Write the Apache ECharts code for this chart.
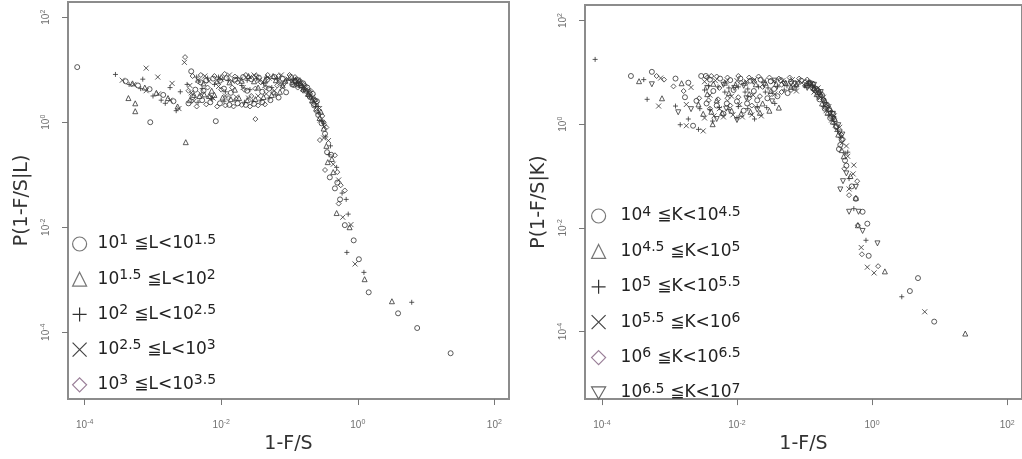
<!DOCTYPE html>
<html><head><meta charset="utf-8">
<script src="https://cdn.jsdelivr.net/npm/echarts@6/dist/echarts.min.js"></script>
<style>html,body{margin:0;padding:0;background:#fff}#c{width:1022px;height:459px}</style>
</head><body><div id="c"></div>
<script>
// Points stored as [log10(1-F/S), log10(P)].
// Left panel: size classes L
const L1 = [[-4.11,1.05],[-2.44,0.97],[-3.04,0.00],[-2.08,0.02],
 [-3.40,0.78],[-3.22,0.70],[-3.05,0.63],[-2.85,0.52],[-2.70,0.40],
 [-2.38,0.62],[-2.30,0.76],[-2.22,0.80],[-2.12,0.83],[-2.02,0.79],[-1.92,0.84],[-1.80,0.81],[-1.68,0.86],[-1.56,0.82],[-1.45,0.85],[-1.33,0.81],[-1.22,0.86],[-1.10,0.83],[-0.98,0.86],
 [-2.42,0.48],[-2.28,0.42],[-2.16,0.38],[-2.02,0.36],[-1.88,0.33],[-1.76,0.36],[-1.64,0.33],[-1.52,0.35],[-1.40,0.38],[-1.28,0.42],[-1.16,0.47],[-1.05,0.57],
 [-0.92,0.78],[-0.84,0.70],[-0.76,0.60],[-0.70,0.48],[-0.64,0.32],[-0.58,0.14],[-0.53,-0.02],[-0.48,-0.22],[-0.45,-0.57],[-0.41,-1.05],[-0.335,-1.26],[-0.26,-1.47],[-0.19,-1.96],[-0.06,-2.25],[0.016,-2.61],[0.16,-3.24],[0.59,-3.64],[0.87,-3.92],[1.36,-4.40],
 [-2.26,0.60],[-1.96,0.64],[-1.62,0.60],[-1.30,0.64],[-0.96,0.72],[-2.48,0.36],[-1.86,0.56],[-1.40,0.58],[-0.87,0.80],[-0.80,0.74],[-0.74,0.66],[-0.66,0.54],[-0.60,0.40],[-0.39,-0.62],[-0.30,-1.15]];
const L2 = [[-2.52,-0.38],[-3.36,0.46],[-3.26,0.36],[-3.26,0.21],
 [-3.30,0.74],[-3.12,0.66],[-2.95,0.56],[-2.78,0.46],[-2.64,0.30],
 [-2.40,0.52],[-2.32,0.50],[-2.25,0.53],[-2.18,0.50],[-2.10,0.52],[-1.98,0.47],[-1.86,0.44],[-1.74,0.46],[-1.62,0.42],[-1.50,0.44],[-1.38,0.48],[-1.26,0.52],[-1.14,0.58],
 [-2.26,0.74],[-2.06,0.78],[-1.88,0.76],[-1.70,0.79],[-1.52,0.78],[-1.36,0.80],[-1.20,0.80],[-1.06,0.79],[-0.95,0.76],
 [-0.88,0.72],[-0.80,0.64],[-0.73,0.54],[-0.67,0.42],[-0.61,0.26],[-0.56,0.08],[-0.50,-0.12],[-0.44,-0.76],[-0.38,-0.70],[-0.31,-1.73],[-0.12,-2.00],[0.10,-2.99],[0.50,-3.41],
 [-2.46,0.42],[-2.14,0.60],[-1.80,0.62],[-1.46,0.66],[-1.10,0.70],[-2.00,0.86],[-1.60,0.88],[-1.24,0.88],[-0.91,0.80],[-0.84,0.76],[-0.70,0.58],[-0.63,0.44],[-0.54,0.20],[-0.46,-0.45],[-0.36,-0.95]];
const L3 = [[-3.55,0.91],[-3.15,0.82],[-2.75,0.66],[-2.88,0.42],[-2.60,0.58],[-2.50,0.72],
 [-3.35,0.72],[-3.18,0.64],[-3.00,0.50],[-2.82,0.36],[-2.66,0.22],
 [-2.36,0.86],[-2.20,0.84],[-2.04,0.86],[-1.90,0.80],[-1.76,0.84],[-1.62,0.80],[-1.48,0.83],[-1.34,0.86],[-1.18,0.83],[-1.04,0.80],
 [-2.34,0.38],[-2.14,0.44],[-1.96,0.40],[-1.80,0.42],[-1.66,0.38],[-1.54,0.40],[-1.42,0.42],[-1.30,0.46],[-1.20,0.52],
 [-0.90,0.74],[-0.82,0.66],[-0.74,0.58],[-0.68,0.46],[-0.62,0.30],[-0.57,0.18],[-0.52,0.02],[-0.47,-0.28],[-0.40,-0.45],[-0.31,-0.86],[-0.23,-1.35],[-0.17,-1.47],[-0.14,-1.75],[-0.16,-2.48],[0.09,-2.86],[0.79,-3.43],
 [-2.28,0.64],[-1.94,0.58],[-1.58,0.62],[-1.26,0.66],[-2.10,0.72],[-1.70,0.70],[-1.38,0.74],[-0.98,0.80],[-0.94,0.82],[-0.86,0.70],[-0.79,0.62],[-0.71,0.50],[-0.58,0.30],[-0.50,-0.02],[-0.42,-0.62]];
const L4 = [[-3.10,1.03],[-2.93,0.86],[-2.54,1.14],[-2.72,0.74],
 [-3.45,0.80],[-3.28,0.72],[-3.10,0.60],[-2.92,0.54],[-2.75,0.42],[-2.62,0.26],
 [-2.46,0.70],[-2.34,0.80],[-2.18,0.78],[-2.00,0.82],[-1.84,0.78],[-1.72,0.82],[-1.58,0.86],[-1.44,0.80],[-1.30,0.84],[-1.16,0.80],[-1.02,0.82],
 [-2.44,0.56],[-2.30,0.54],[-2.12,0.46],[-1.94,0.50],[-1.78,0.48],[-1.60,0.46],[-1.46,0.50],[-1.34,0.54],[-1.22,0.60],[-1.10,0.66],
 [-0.86,0.76],[-0.78,0.68],[-0.72,0.56],[-0.66,0.48],[-0.60,0.34],[-0.55,0.04],[-0.49,-0.08],[-0.43,-0.35],[-0.36,-0.80],[-0.28,-1.10],[-0.22,-1.81],[-0.10,-1.95],[-0.04,-2.70],
 [-2.40,0.40],[-2.04,0.68],[-1.68,0.66],[-1.36,0.70],[-1.14,0.74],[-2.24,0.88],[-1.88,0.90],[-1.52,0.90],[-1.12,0.90],[-0.88,0.80],[-0.82,0.72],[-0.76,0.62],[-0.64,0.40],[-0.56,0.26],[-0.50,-0.30]];
const L5 = [[-2.53,1.24],[-1.50,0.06],
 [-2.42,0.88],[-2.30,0.90],[-2.10,0.88],[-1.95,0.92],[-1.80,0.87],[-1.64,0.90],[-1.48,0.88],[-1.32,0.90],[-1.16,0.88],[-1.00,0.90],[-0.92,0.86],
 [-2.20,0.66],[-2.00,0.62],[-1.84,0.66],[-1.66,0.62],[-1.50,0.64],[-1.34,0.66],[-1.18,0.70],
 [-2.36,0.30],[-2.22,0.34],[-2.06,0.30],[-1.94,0.32],[-1.82,0.30],[-1.70,0.33],[-1.58,0.30],[-1.46,0.32],[-1.36,0.34],
 [-0.94,0.70],[-0.88,0.66],[-0.80,0.60],[-0.72,0.50],[-0.66,0.36],[-0.60,0.20],[-0.555,-0.34],[-0.50,0.00],[-0.46,-0.10],[-0.48,-0.91],[-0.335,-0.63],[-0.30,-0.95],[-0.25,-1.20],[-0.28,-1.55],[-0.19,-1.30],
 [-2.48,0.60],[-2.16,0.48],[-1.90,0.46],[-1.56,0.50],[-1.24,0.56],[-2.34,0.78],[-1.76,0.76],[-1.42,0.76],[-1.08,0.74],[-0.90,0.82],[-0.84,0.78],[-0.77,0.70],[-0.69,0.60],[-0.62,0.42],[-0.52,0.12]];

// Right panel: size classes K
const K1 = [[-3.57,0.93],[-3.26,1.01],[-2.91,0.88],[-2.72,0.80],[-2.53,0.93],[-2.46,0.93],
 [-2.40,0.86],[-2.25,0.88],[-2.10,0.85],[-1.95,0.88],[-1.80,0.84],[-1.65,0.86],[-1.50,0.83],[-1.35,0.85],[-1.20,0.82],[-1.05,0.84],[-0.92,0.80],
 [-2.60,0.45],[-2.45,0.40],[-2.30,0.36],[-2.15,0.40],[-2.00,0.44],[-1.85,0.40],[-1.70,0.46],[-1.55,0.50],[-1.40,0.54],[-1.25,0.60],
 [-2.77,0.52],[-2.65,-0.03],
 [-0.85,0.66],[-0.78,0.48],[-0.70,0.30],[-0.62,0.12],[-0.53,-0.04],[-0.45,-0.30],[-0.49,-0.48],[-0.38,-0.80],[-0.30,-1.20],[-0.24,-1.44],[-0.14,-1.69],[-0.07,-1.92],[-0.05,-2.54],[0.68,-2.97],[0.56,-3.22],[0.92,-3.81],
 [-2.35,0.64],[-2.05,0.66],[-1.75,0.64],[-1.45,0.68],[-1.15,0.70],[-2.20,0.20],[-1.90,0.26],[-0.95,0.74],[-0.88,0.78],[-0.82,0.68],[-0.74,0.56],[-0.66,0.36],[-0.58,0.20],[-0.47,-0.40],[-0.40,-0.70]];
const K2 = [[-3.11,0.50],[-3.45,0.83],[-2.82,0.79],[-2.57,0.38],[-2.36,0.00],
 [-2.35,0.78],[-2.18,0.80],[-2.02,0.76],[-1.88,0.80],[-1.72,0.77],[-1.58,0.80],[-1.42,0.78],[-1.28,0.80],[-1.12,0.77],[-0.98,0.76],
 [-2.50,0.20],[-2.38,0.24],[-2.22,0.22],[-2.08,0.26],[-1.94,0.20],[-1.80,0.24],[-1.66,0.22],[-1.52,0.26],[-1.38,0.32],
 [-0.82,0.58],[-0.74,0.40],[-0.66,0.22],[-0.58,0.05],[-0.50,-0.20],[-0.42,-0.62],[-0.24,-1.42],[-0.21,-1.95],[0.19,-2.84],[1.38,-4.04],
 [-2.44,0.58],[-2.12,0.60],[-1.82,0.58],[-1.50,0.64],[-1.20,0.72],[-2.30,0.46],[-1.62,0.40],[-0.92,0.80],[-0.86,0.70],[-0.78,0.62],[-0.70,0.46],[-0.62,0.30],[-0.55,0.10],[-0.45,-0.50],[-0.32,-1.00]];
const K3 = [[-4.10,1.25],[-3.33,0.48],[-2.91,0.35],[-2.84,-0.01],[-3.38,0.86],
 [-2.42,0.74],[-2.28,0.72],[-2.12,0.70],[-1.98,0.72],[-1.84,0.68],[-1.68,0.72],[-1.54,0.70],[-1.40,0.72],[-1.26,0.74],[-1.14,0.72],[-1.00,0.74],
 [-2.55,0.30],[-2.40,0.28],[-2.26,0.32],[-2.12,0.28],[-1.98,0.34],[-1.84,0.30],[-1.70,0.34],[-1.56,0.32],[-1.44,0.40],
 [-2.72,0.10],[-2.57,-0.10],
 [-0.88,0.72],[-0.80,0.60],[-0.72,0.34],[-0.64,0.18],[-0.56,0.00],[-0.47,-0.26],[-0.36,-0.54],[-0.34,-1.05],[-0.27,-1.63],[-0.09,-2.24],[0.44,-3.33],
 [-2.48,0.66],[-2.18,0.62],[-1.88,0.62],[-1.58,0.62],[-1.30,0.66],[-2.36,0.06],[-2.00,0.12],[-1.74,0.10],[-0.94,0.82],[-0.84,0.70],[-0.76,0.62],[-0.68,0.42],[-0.60,0.24],[-0.51,-0.14],[-0.40,-0.56]];
const K4 = [[-3.16,0.35],[-3.13,0.89],[-2.68,0.71],[-2.75,0.38],
 [-2.48,0.82],[-2.32,0.84],[-2.16,0.82],[-2.00,0.84],[-1.86,0.82],[-1.74,0.86],[-1.60,0.84],[-1.46,0.82],[-1.32,0.84],[-1.18,0.86],[-1.04,0.80],[-0.94,0.76],
 [-2.48,0.12],[-2.34,0.16],[-2.20,0.14],[-2.06,0.18],[-1.92,0.14],[-1.78,0.18],[-1.64,0.16],
 [-2.75,-0.03],[-2.50,-0.13],
 [-0.86,0.62],[-0.76,0.52],[-0.68,0.26],[-0.60,0.08],[-0.52,-0.10],[-0.44,-0.36],[-0.38,-0.42],[-0.27,-0.79],[-0.34,-1.25],[-0.16,-2.38],[-0.07,-2.76],[0.03,-2.87],[0.78,-3.62],
 [-2.40,0.56],[-2.08,0.54],[-1.76,0.56],[-1.44,0.58],[-1.12,0.64],[-2.26,0.30],[-1.96,0.38],[-0.90,0.78],[-0.80,0.70],[-0.72,0.52],[-0.64,0.34],[-0.56,0.16],[-0.48,-0.06],[-0.36,-0.62],[-0.28,-0.96]];
const K5 = [[-3.19,0.93],[-3.08,0.86],[-2.94,0.73],[-2.79,0.64],[-2.38,0.93],
 [-2.44,0.90],[-2.30,0.92],[-2.14,0.90],[-1.98,0.93],[-1.82,0.90],[-1.68,0.92],[-1.52,0.90],[-1.38,0.88],[-1.22,0.90],[-1.08,0.88],[-0.96,0.86],
 [-2.56,0.50],[-2.42,0.46],[-2.28,0.48],[-2.14,0.50],[-1.98,0.52],[-1.82,0.50],[-1.66,0.54],[-1.50,0.58],[-1.34,0.62],[-1.20,0.66],
 [-0.84,0.64],[-0.76,0.56],[-0.68,0.38],[-0.60,0.15],[-0.54,-0.06],[-0.43,-0.29],[-0.41,-0.86],[-0.22,-1.10],[-0.34,-1.37],[-0.21,-1.95],[-0.15,-2.51],[0.09,-2.74],
 [-2.26,0.70],[-1.94,0.80],[-1.62,0.72],[-1.34,0.76],[-1.14,0.80],[-2.40,0.30],[-2.10,0.36],[-1.78,0.36],[-0.98,0.82],[-0.88,0.74],[-0.80,0.66],[-0.72,0.48],[-0.64,0.28],[-0.56,0.08],[-0.46,-0.20]];
const K6 = [[-3.26,0.77],[-2.87,0.23],[-2.68,0.29],
 [-2.20,0.76],[-1.90,0.74],[-1.60,0.76],[-1.30,0.78],[-1.10,0.78],
 [-2.30,0.10],[-2.00,0.08],[-1.70,0.28],[-1.48,0.44],
 [-0.90,0.70],[-0.80,0.52],[-0.72,0.44],[-0.62,0.20],[-0.57,0.10],[-0.48,-0.16],[-0.43,-1.10],[-0.47,-1.26],[-0.24,-1.21],[-0.34,-1.69],[-0.20,-1.69],[-0.14,-2.06],[0.08,-2.30],
 [-2.44,0.70],[-2.04,0.70],[-1.76,0.82],[-1.44,0.84],[-1.20,0.78],[-2.16,0.30],[-1.86,0.50],[-0.96,0.70],[-0.86,0.76],[-0.76,0.62],[-0.68,0.32],[-0.58,0.20],[-0.50,-0.02],[-0.44,-0.20],[-0.38,-0.95]];

const tickValues = [1e-4, 1e-2, 1, 1e2];
const leftRanges = [['1','1.5'],['1.5','2'],['2','2.5'],['2.5','3'],['3','3.5']];
const rightRanges = [['4','4.5'],['4.5','5'],['5','5.5'],['5.5','6'],['6','6.5'],['6.5','7']];
const leftNames = ['L1','L2','L3','L4','L5'];
const rightNames = ['K1','K2','K3','K4','K5','K6'];

const SYM = {
  circle: 'circle',
  triangle: 'triangle',
  plus: 'path://M5,0L5,10M0,5L10,5',
  cross: 'path://M0,0L10,10M10,0L0,10',
  diamond: 'diamond',
  down: 'path://M0,0L10,0L5,8.66Z'
};
const leftSyms = ['circle','triangle','plus','cross','diamond'];
const rightSyms = ['circle','triangle','plus','cross','diamond','down'];
const legendColors = {circle:'#777', triangle:'#777', plus:'#333', cross:'#444', diamond:'#9a7f98', down:'#666'};

const toVal = p => [Math.pow(10, p[0]), Math.pow(10, p[1])];
const FONT = 'DejaVu Sans';

function tickLabel(v) {
  const e = Math.round(Math.log10(v));
  return '{b|10}{s|' + e + '}';
}
const tickRich = {
  b: {fontFamily: 'Liberation Sans', fontSize: 10, color: '#707070', lineHeight: 12},
  s: {fontFamily: 'Liberation Sans', fontSize: 7, color: '#707070', lineHeight: 7, verticalAlign: 'top'}
};
function legendRich(pad) {
  return {
    g: {width: pad},
    b: {fontFamily: FONT, fontSize: 17, color: '#222', lineHeight: 22},
    s1: {fontFamily: FONT, fontSize: 14, color: '#222', lineHeight: 14, verticalAlign: 'top', width: 15},
    s3: {fontFamily: FONT, fontSize: 14, color: '#222', lineHeight: 14, verticalAlign: 'top', width: 28},
    s: {fontFamily: FONT, fontSize: 14, color: '#222', lineHeight: 14, verticalAlign: 'top'}
  };
}
function legendText(r, letter) {
  const first = r[0].length > 1 ? 's3' : 's1';
  return '{g|}{b|10}{' + first + '|' + r[0] + '}{b|≦' + letter + '<10}{s|' + r[1] + '}';
}

function xAxis(gi, min, max) {
  return {
    type: 'log', logBase: 10, gridIndex: gi, min: Math.pow(10, min), max: Math.pow(10, max),
    name: '1-F/S', nameLocation: 'middle', nameGap: 33,
    nameTextStyle: {fontFamily: FONT, fontSize: 19, color: '#333'},
    axisLine: {show: false},
    axisTick: {show: true, length: 6, inside: false, customValues: tickValues, lineStyle: {color: '#777', width: 1}},
    axisLabel: {margin: 20, customValues: tickValues, formatter: tickLabel, rich: tickRich},
    splitLine: {show: false}, minorTick: {show: false}
  };
}
function yAxis(gi, min, max, name) {
  return {
    type: 'log', logBase: 10, gridIndex: gi, min: Math.pow(10, min), max: Math.pow(10, max),
    name: name, nameLocation: 'middle', nameGap: 36,
    nameTextStyle: {fontFamily: FONT, fontSize: 19, color: '#333'},
    axisLine: {show: false},
    axisTick: {show: true, length: 6, inside: false, customValues: tickValues, lineStyle: {color: '#777', width: 1}},
    axisLabel: {margin: 16, rotate: 90, customValues: tickValues, formatter: tickLabel, rich: tickRich},
    splitLine: {show: false}, minorTick: {show: false}
  };
}
function makeSeries(name, data, sym, idx) {
  return {
    type: 'scatter', name: name, xAxisIndex: idx, yAxisIndex: idx,
    data: data.map(toVal), symbol: SYM[sym], symbolSize: 5,
    itemStyle: {color: 'rgba(0,0,0,0)', borderColor: '#333', borderWidth: 1, opacity: 0.8},
    emphasis: {disabled: true}, silent: true
  };
}

const series = [];
[L1, L2, L3, L4, L5].forEach((d, i) => series.push(makeSeries(leftNames[i], d, leftSyms[i], 0)));
[K1, K2, K3, K4, K5, K6].forEach((d, i) => series.push(makeSeries(rightNames[i], d, rightSyms[i], 1)));

const legendItem = (name, sym) => ({
  name: name,
  itemStyle: {color: 'rgba(0,0,0,0)', borderColor: legendColors[sym], borderWidth: 1.2, opacity: 1}
});

const chart = echarts.init(document.getElementById('c'), null, {renderer: 'canvas'});
chart.setOption({
  animation: false,
  backgroundColor: '#fff',
  grid: [
    {left: 68, top: 2, width: 441, height: 397, show: true, borderColor: '#8c8c8c', borderWidth: 2, containLabel: false},
    {left: 585, top: 5, width: 442, height: 397, show: true, borderColor: '#8c8c8c', borderWidth: 2, containLabel: false}
  ],
  xAxis: [xAxis(0, -4.245, 2.215), xAxis(1, -4.25, 2.22)],
  yAxis: [yAxis(0, -5.272, 2.29, 'P(1-F/S|L)'), yAxis(1, -5.305, 2.30, 'P(1-F/S|K)')],
  legend: [
    {
      orient: 'vertical', left: 72, top: 233, padding: 0, itemWidth: 14, itemHeight: 14, itemGap: 15.7,
      data: leftNames.map((n, i) => legendItem(n, leftSyms[i])),
      formatter: n => legendText(leftRanges[leftNames.indexOf(n)], 'L'),
      textStyle: {rich: legendRich(6)}, selectedMode: false
    },
    {
      orient: 'vertical', left: 591, top: 205, padding: 0, itemWidth: 14, itemHeight: 14, itemGap: 15.9,
      data: rightNames.map((n, i) => legendItem(n, rightSyms[i])),
      formatter: n => legendText(rightRanges[rightNames.indexOf(n)], 'K'),
      textStyle: {rich: legendRich(10)}, selectedMode: false
    }
  ],
  series: series
});
</script></body></html>
